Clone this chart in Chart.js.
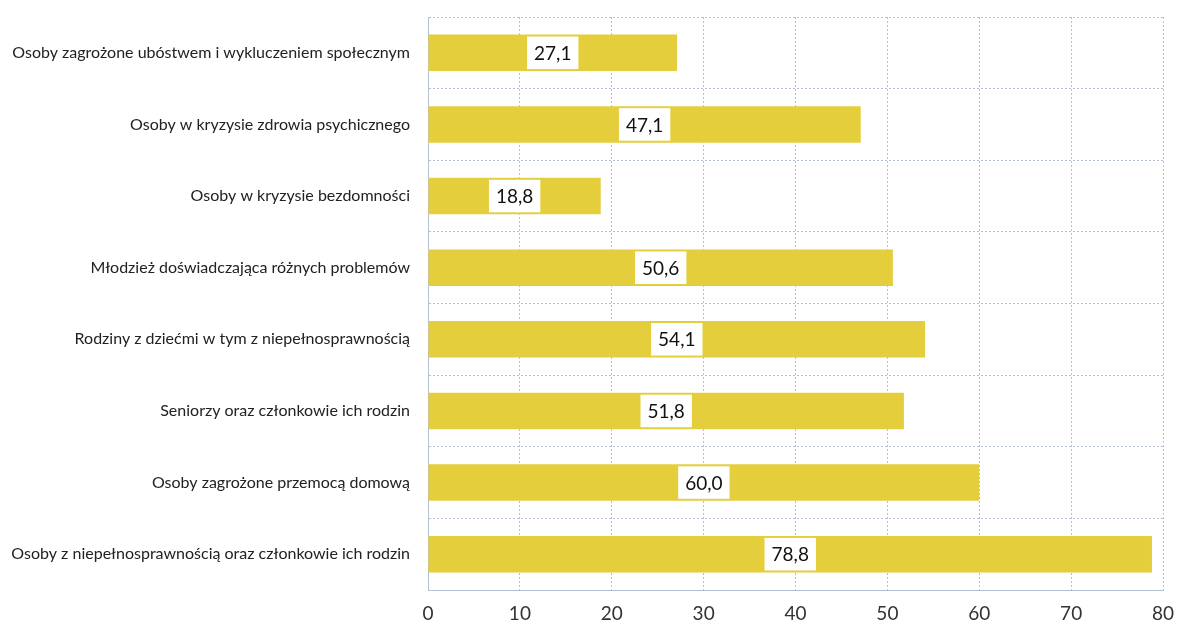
<!DOCTYPE html>
<html lang="pl">
<head>
<meta charset="UTF-8">
<title>Grupy odbiorców</title>
<script src="https://cdn.jsdelivr.net/npm/chart.js"></script>
<style>
    html, body { margin: 0; padding: 0; background: #fff; }
    #wrap { width: 1182px; height: 625px; }
</style>
</head>
<body>
<div id="wrap"><canvas id="chart" width="1182" height="625"></canvas></div>
<script>
// categories, top to bottom
const categories = [
    'Osoby zagrożone ubóstwem i wykluczeniem społecznym',
    'Osoby w kryzysie zdrowia psychicznego',
    'Osoby w kryzysie bezdomności',
    'Młodzież doświadczająca różnych problemów',
    'Rodziny z dziećmi w tym z niepełnosprawnością',
    'Seniorzy oraz członkowie ich rodzin',
    'Osoby zagrożone przemocą domową',
    'Osoby z niepełnosprawnością oraz członkowie ich rodzin'
];
const values = [27.1, 47.1, 18.8, 50.6, 54.1, 51.8, 60.0, 78.8];
const xTicks = [0, 10, 20, 30, 40, 50, 60, 70, 80];

const gridColor = '#b3bfd3';
const barColor = '#e5ce3c';

// white box with the value in the middle of every bar
const valueBoxes = {
    id: 'valueBoxes',
    afterDatasetsDraw(chart) {
        const ctx = chart.ctx;
        const meta = chart.getDatasetMeta(0);
        ctx.save();
        ctx.font = '19px Lato, "Open Sans", sans-serif';
        ctx.textAlign = 'center';
        ctx.textBaseline = 'middle';
        meta.data.forEach((bar, i) => {
            const txt = values[i].toFixed(1).replace('.', ',');
            const cx = (bar.x + bar.base) / 2;
            const w = ctx.measureText(txt).width + 14;
            const h = bar.height - 4;
            ctx.fillStyle = '#ffffff';
            ctx.fillRect(cx - w / 2, bar.y - h / 2, w, h);
            ctx.fillStyle = '#111111';
            ctx.fillText(txt, cx, bar.y + 1);
        });
        ctx.restore();
    }
};

new Chart(document.getElementById('chart'), {
    type: 'bar',
    data: {
        labels: categories,
        datasets: [{
            data: values,
            backgroundColor: barColor,
            borderWidth: 0,
            barPercentage: 0.51,
            categoryPercentage: 1
        }]
    },
    options: {
        indexAxis: 'y',
        responsive: false,
        animation: false,
        layout: { padding: { top: 17, right: 19, left: 0, bottom: 0 } },
        plugins: {
            legend: { display: false },
            tooltip: { enabled: false }
        },
        scales: {
            x: {
                min: 0,
                max: 80,
                afterBuildTicks(scale) {
                    scale.ticks = xTicks.map(v => ({ value: v }));
                },
                afterFit(scale) {
                    scale.height = 35;
                    scale.paddingLeft = 0;
                    scale.paddingRight = 0;
                },
                grid: { color: gridColor, lineWidth: 1, drawTicks: false },
                border: { color: gridColor, dash: [2, 2] },
                ticks: {
                    color: '#333',
                    padding: 12,
                    font: { family: 'Lato, "Open Sans", sans-serif', size: 19 }
                }
            },
            y: {
                afterFit(scale) {
                    scale.width = 428;
                    scale.paddingTop = 0;
                    scale.paddingBottom = 0;
                },
                grid: { color: gridColor, lineWidth: 1, drawTicks: false, offset: true },
                border: { color: gridColor, dash: [2, 2] },
                ticks: {
                    color: '#222',
                    padding: 18,
                    font: { family: 'Lato, "Open Sans", sans-serif', size: 16 }
                }
            }
        }
    },
    plugins: [valueBoxes]
});
</script>
</body>
</html>
